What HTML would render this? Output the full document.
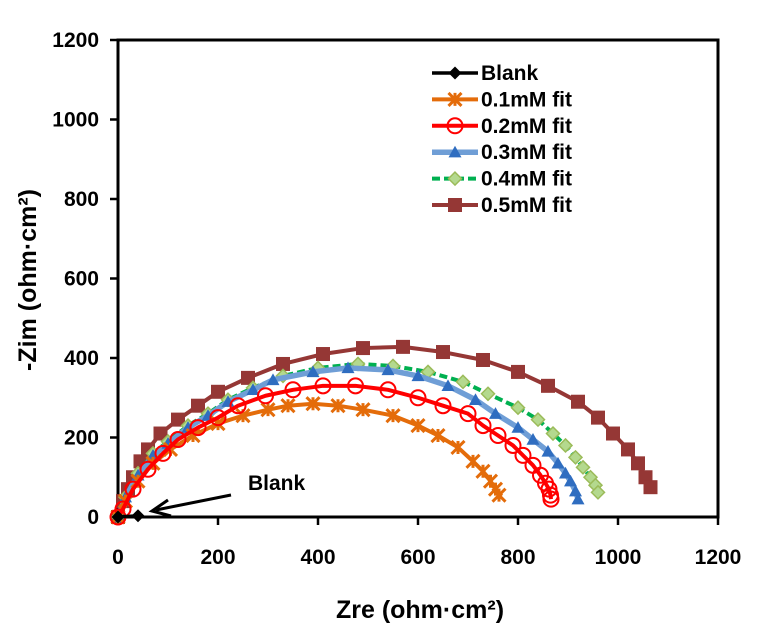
<!DOCTYPE html>
<html><head><meta charset="utf-8"><style>
html,body{margin:0;padding:0;background:#fff;}
svg{display:block;font-family:"Liberation Sans",Arial,sans-serif;font-weight:bold;}
</style></head><body>
<svg id="chart" width="757" height="637" viewBox="0 0 757 637">
<g id="plot"></g>
</svg>
<script>
const xTicks=[0,200,400,600,800,1000,1200];
const yTicks=[0,200,400,600,800,1000,1200];
const seriesNames=["Blank","0.1mM fit","0.2mM fit","0.3mM fit","0.4mM fit","0.5mM fit"];
const blankX=[0,40];
const blankY=[0,3];
const s1X=[0,15,40,70,105,150,200,250,300,340,390,440,490,550,600,640,680,710,730,745,755,762];
const s1Y=[0,40,90,135,170,205,235,255,270,280,285,280,270,255,230,205,175,140,115,90,70,55];
const s2X=[0,10,30,60,90,120,160,200,240,295,350,410,475,540,600,650,700,730,760,790,810,830,845,855,862,865,866];
const s2Y=[0,20,70,120,160,195,225,250,280,305,320,330,330,320,300,280,260,230,205,180,155,130,105,85,70,55,45];
const s3X=[0,15,40,70,100,140,180,220,270,310,390,460,540,600,660,715,755,800,830,860,880,895,905,915,920];
const s3Y=[0,50,105,155,185,225,255,290,320,345,365,375,370,355,330,295,260,225,195,165,135,110,90,65,45];
const s4X=[0,15,40,70,100,140,180,220,270,330,400,480,550,620,690,740,800,840,870,895,915,930,945,955,960];
const s4Y=[0,50,110,160,190,230,260,295,325,355,375,385,380,365,340,310,275,245,210,180,150,125,100,80,62];
const s5X=[0,10,20,30,45,60,85,120,160,200,260,330,410,490,570,650,730,800,860,920,960,990,1020,1040,1055,1065];
const s5Y=[0,40,70,100,140,170,210,245,280,315,350,385,410,425,428,415,395,365,330,290,250,210,170,135,100,75];

const X0=118,X1=718,Y0=517,Y1=40;
const xs=v=>X0+(v/1200)*(X1-X0);
const ys=v=>Y0-(v/1200)*(Y0-Y1);
const NS="http://www.w3.org/2000/svg";
const plot=document.getElementById('plot');
function mk(tag,attrs,parent){const e=document.createElementNS(NS,tag);for(const k in attrs)e.setAttribute(k,attrs[k]);(parent||plot).appendChild(e);return e;}

const frame=mk('rect',{x:X0,y:Y1,width:X1-X0,height:Y0-Y1,fill:'none',stroke:'#000','stroke-width':3});


xTicks.forEach(t=>{
  const l=mk('line',{x1:xs(t),x2:xs(t),y1:Y0,y2:Y0+8,stroke:'#000','stroke-width':2.5});
  
  
  const tx=mk('text',{x:xs(t),y:Y0+47,'text-anchor':'middle','font-size':21});
  tx.textContent=t;
  
  
});
yTicks.forEach(t=>{
  const l=mk('line',{x1:X0-8,x2:X0,y1:ys(t),y2:ys(t),stroke:'#000','stroke-width':2.5});
  
  
  const tx=mk('text',{x:X0-19,y:ys(t)+7,'text-anchor':'end','font-size':21});
  tx.textContent=t;
  
  
});
const xt=mk('text',{x:420,y:618,'text-anchor':'middle','font-size':25});
xt.textContent='Zre (ohm·cm²)';


const yt=mk('text',{x:0,y:0,'text-anchor':'middle','font-size':25,transform:'translate(36,280) rotate(-90)'});
yt.textContent='-Zim (ohm·cm²)';



function marker(type,cx,cy,g,st){
  if(type==='diamond'){mk('polygon',{points:`${cx},${cy-st.s} ${cx+st.s},${cy} ${cx},${cy+st.s} ${cx-st.s},${cy}`,fill:st.fill,stroke:st.mstroke||'none','stroke-width':1.5},g);}
  else if(type==='x'){const s=st.s;mk('path',{d:`M${cx-s},${cy-s}L${cx+s},${cy+s}M${cx-s},${cy+s}L${cx+s},${cy-s}M${cx},${cy-s}L${cx},${cy+s}`,stroke:st.fill,'stroke-width':3},g);}
  else if(type==='circle'){mk('circle',{cx,cy,r:st.s,fill:'none',stroke:st.fill,'stroke-width':2},g);}
  else if(type==='tri'){const s=st.s;mk('polygon',{points:`${cx},${cy-s} ${cx+s},${cy+s*0.8} ${cx-s},${cy+s*0.8}`,fill:st.fill},g);}
  else if(type==='square'){const s=st.s;mk('rect',{x:cx-s,y:cy-s,width:2*s,height:2*s,fill:st.fill},g);}
}
const styles=[
 {X:blankX,Y:blankY,line:'#000',w:3.5,m:'diamond',fill:'#000',s:6.5},
 {X:s1X,Y:s1Y,line:'#E46C0A',w:4,m:'x',fill:'#E46C0A',s:6.5},
 {X:s2X,Y:s2Y,line:'#FF0000',w:4,m:'circle',fill:'#FF0000',s:7.5},
 {X:s3X,Y:s3Y,line:'#6F9ED6',w:5.5,m:'tri',fill:'#2F6DC0',s:6.5},
 {X:s4X,Y:s4Y,line:'#00B050',w:4,dash:'8,4',m:'diamond',fill:'#B4D98E',mstroke:'#9BBB59',s:6.5},
 {X:s5X,Y:s5Y,line:'#953735',w:4,m:'square',fill:'#953735',s:7}
];
const drawOrder=[5,4,3,1,2,0];
drawOrder.forEach(i=>{
  const st=styles[i];
  const g=mk('g',{});
  
  
  const pts=st.X.map((x,j)=>xs(x)+','+ys(st.Y[j])).join(' ');
  const pl=mk('polyline',{points:pts,fill:'none',stroke:st.line,'stroke-width':st.w,'stroke-linejoin':'round'},g);
  if(st.dash)pl.setAttribute('stroke-dasharray',st.dash);
  st.X.forEach((x,j)=>marker(st.m,xs(x),ys(st.Y[j]),g,st));
});
const lg=mk('g',{});


seriesNames.forEach((n,i)=>{
  const st=styles[i];const y=73+i*26.4;
  const e=mk('g',{},lg);
  
  
  const l=mk('line',{x1:432,x2:478,y1:y,y2:y,stroke:st.line,'stroke-width':st.w},e);
  if(st.dash)l.setAttribute('stroke-dasharray',st.dash);
  marker(st.m,455,y,e,st);
  const t=mk('text',{x:481,y:y+7,'font-size':21},e);
  t.textContent=n;
});
const an=mk('g',{});


const at=mk('text',{x:248,y:490,'font-size':21},an);
at.textContent='Blank';
mk('line',{x1:231,y1:495,x2:156,y2:510,stroke:'#000','stroke-width':3},an);
mk('path',{d:'M168,500 L152,511 L171,516',fill:'none',stroke:'#000','stroke-width':3},an);
</script>
</body></html>
